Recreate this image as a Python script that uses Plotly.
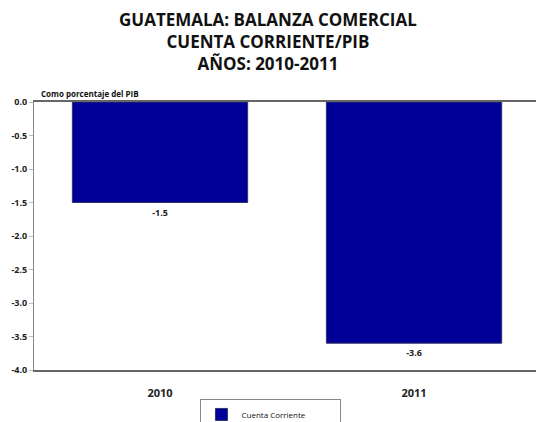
import plotly.graph_objects as go

years = ["2010", "2011"]
cuenta_corriente = [-1.5, -3.6]
y_ticks = [0.0, -0.5, -1.0, -1.5, -2.0, -2.5, -3.0, -3.5, -4.0]

FONT = "Open Sans"

fig = go.Figure()
fig.add_trace(go.Bar(
    x=years, y=cuenta_corriente, name="Cuenta Corriente",
    marker=dict(color="#000099", line=dict(color="#333366", width=1)),
    text=[f"{v:.1f}" for v in cuenta_corriente], textposition="outside",
    textfont=dict(family=FONT, size=9, color="#222", weight="bold"),
    cliponaxis=False, width=0.69,
))

fig.update_layout(
    width=536, height=422,
    margin=dict(l=34, r=0, t=102, b=52, autoexpand=False),
    paper_bgcolor="white", plot_bgcolor="white",
    showlegend=True,
    legend=dict(
        orientation="h", x=0.472, xanchor="center", y=-0.108, yanchor="top",
        bordercolor="#888", borderwidth=1,
        font=dict(family=FONT, size=8, color="#111"),
        itemwidth=30, entrywidth=94,
    ),
    xaxis=dict(
        showline=True, linecolor="#666", linewidth=1.5, mirror=True,
        ticks="", ticklabelstandoff=12,
        tickfont=dict(family=FONT, size=11, color="#222", weight="bold"),
        range=[-0.496, 1.48],
    ),
    yaxis=dict(
        range=[-4, 0], tickvals=y_ticks, ticktext=[f"{v:.1f}" for v in y_ticks],
        showline=True, linecolor="#888", linewidth=1, showgrid=False, zeroline=False,
        ticks="outside", ticklen=4, tickcolor="#bbb",
        tickfont=dict(family=FONT, size=9, color="#222", weight="bold"),
    ),
    bargap=0.3,
    annotations=[
        dict(
            text="GUATEMALA: BALANZA COMERCIAL<br>CUENTA CORRIENTE/PIB<br>AÑOS: 2010-2011",
            xref="paper", yref="paper", x=0.466, y=(370 - 6) / 268,
            xanchor="center", yanchor="top", showarrow=False,
            font=dict(family=FONT, size=17, color="#111", weight="bold"),
        ),
        dict(
            text="Como porcentaje del PIB", xref="paper", yref="paper",
            x=0.01, y=1.005, xanchor="left", yanchor="bottom", showarrow=False,
            font=dict(family=FONT, size=8, color="#111", weight="bold"),
        ),
    ],
)

fig.write_html("out.html")
